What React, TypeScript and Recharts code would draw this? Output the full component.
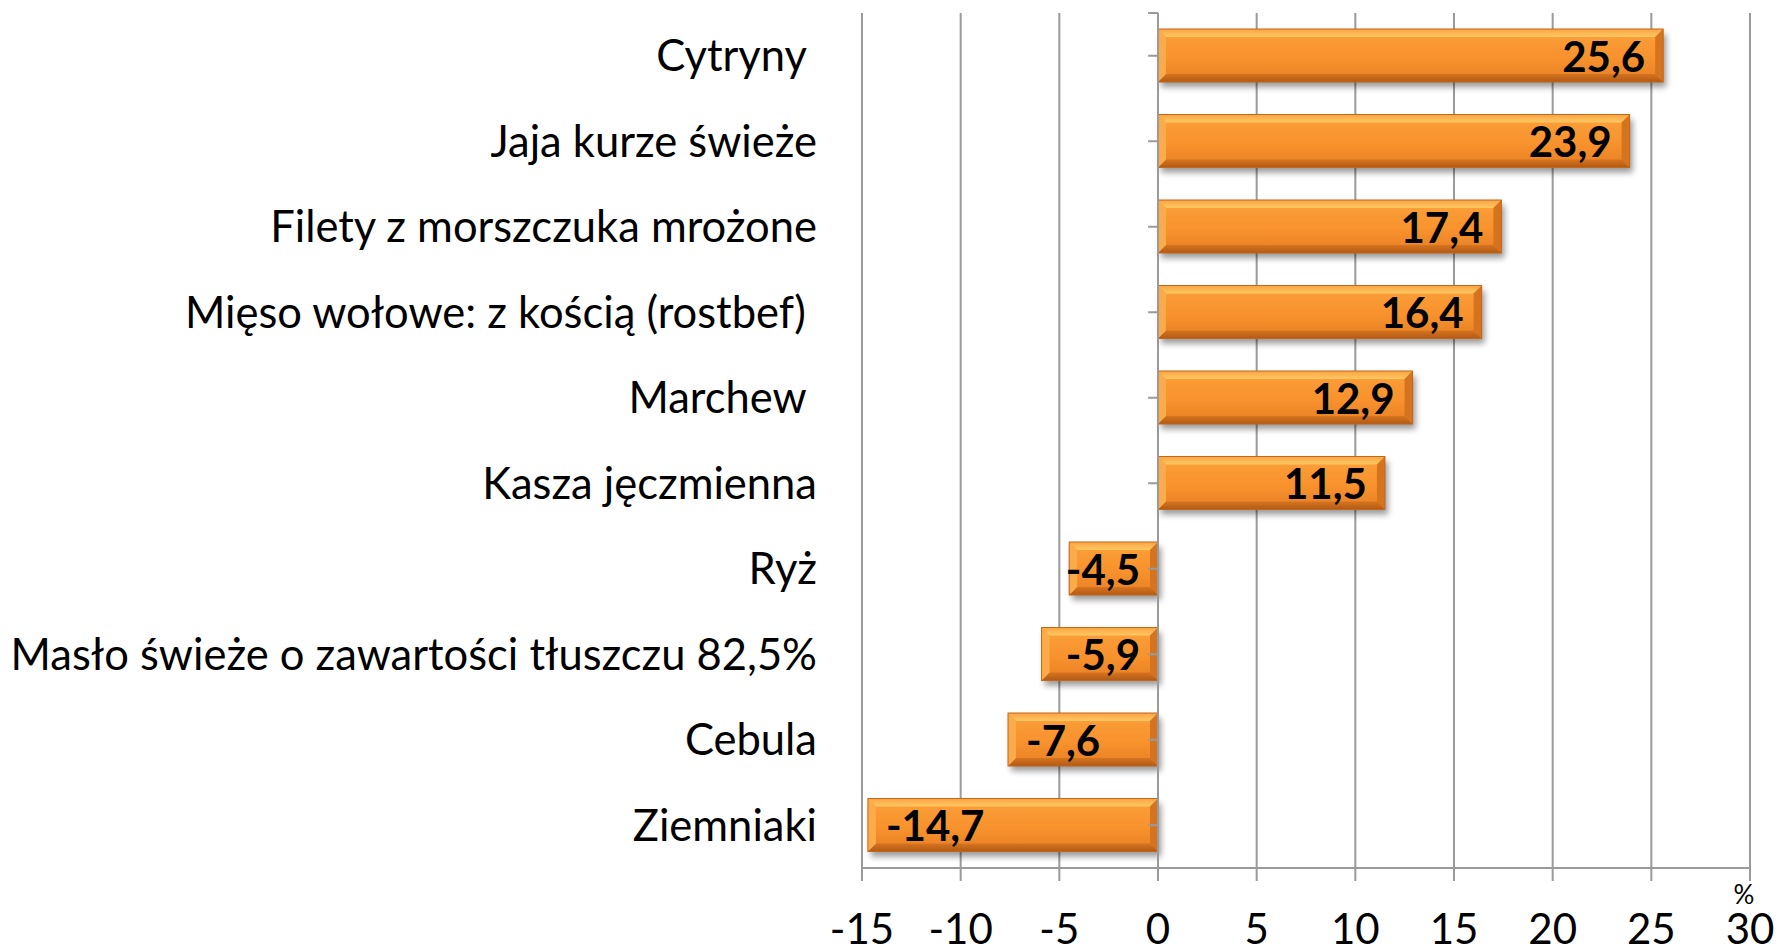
import React from 'react';
import { BarChart, Bar, XAxis, YAxis, CartesianGrid, ReferenceLine, LabelList } from 'recharts';

const categories = [
  'Cytryny ',
  'Jaja kurze świeże',
  'Filety z morszczuka mrożone',
  'Mięso wołowe: z kością (rostbef) ',
  'Marchew ',
  'Kasza jęczmienna',
  'Ryż',
  'Masło świeże o zawartości tłuszczu 82,5%',
  'Cebula',
  'Ziemniaki',
];
const changes = [25.6, 23.9, 17.4, 16.4, 12.9, 11.5, -4.5, -5.9, -7.6, -14.7];
const xTicks = [-15, -10, -5, 0, 5, 10, 15, 20, 25, 30];
const xDomain = [-15, 30];
const unitLabel = '%';

const data = categories.map((name, i) => ({ name, value: changes[i] }));

const FONT = "Lato, 'Open Sans', sans-serif";
const GRID = '#9a9a9a';

const fmt = (v: number) => v.toFixed(1).replace('.', ',');

const BevelBar = (props: any) => {
  let { x, y, width, height } = props;
  if (width < 0) { x += width; width = -width; }
  if (height < 0) { y += height; height = -height; }
  const b = Math.min(8, width / 2, height / 2);
  const r = x + width;
  const btm = y + height;
  return (
    <g>
      <rect x={x + 3} y={y + 5} width={width} height={height} fill="#000" opacity={0.4} filter="url(#barShadow)" />
      <rect x={x} y={y} width={width} height={height} fill="url(#barFace)" />
      <polygon points={`${x},${y} ${r},${y} ${r - b},${y + b} ${x + b},${y + b}`} fill="url(#bevelTop)" />
      <polygon points={`${x},${btm} ${r},${btm} ${r - b},${btm - b} ${x + b},${btm - b}`} fill="url(#bevelBottom)" />
      <polygon points={`${x},${y} ${x + b},${y + b} ${x + b},${btm - b} ${x},${btm}`} fill="#fbab4a" />
      <polygon points={`${r},${y} ${r - b},${y + b} ${r - b},${btm - b} ${r},${btm}`} fill="#d5731f" />
      <rect x={x} y={y} width={width} height={height} fill="none" stroke="#c4671a" strokeWidth={1} />
    </g>
  );
};

const ValueLabel = (props: any) => {
  const { x, y, width, height, value } = props;
  let left = x;
  let w = width;
  if (w < 0) { left = x + w; w = -w; }
  const right = left + w;
  const cy = y + height / 2 + 1;
  const text = fmt(value);
  const fs = 42;
  const est = text.length * fs * 0.5;
  const pad = 18;
  let anchor: 'start' | 'end' = 'end';
  let tx = right - pad;
  if (value < 0 && w - 2 * pad >= est) {
    anchor = 'start';
    tx = left + pad;
  }
  return (
    <text x={tx} y={cy} dy="0.36em" textAnchor={anchor} fontFamily={FONT} fontWeight="bold" fontSize={fs} fill="#000">
      {text}
    </text>
  );
};

const CategoryTick = (props: any) => {
  const { x, y, payload } = props;
  return (
    <text x={x} y={y} dy="0.36em" textAnchor="end" fontFamily={FONT} fontSize={43.5} fill="#000" style={{ whiteSpace: 'pre' }}>
      {payload.value}
    </text>
  );
};

const ValueTick = (props: any) => {
  const { x, y, payload } = props;
  return (
    <text x={x} y={y} dy="0.72em" textAnchor="middle" fontFamily={FONT} fontSize={42} fill="#000">
      {payload.value}
    </text>
  );
};

const UnitLabel = (props: any) => {
  const { viewBox } = props;
  if (!viewBox) return null;
  return (
    <text x={viewBox.x + viewBox.width - 6} y={viewBox.y + 27} dy="0.36em" textAnchor="middle" fontFamily={FONT} fontSize={26} fill="#000">
      {unitLabel}
    </text>
  );
};

export default function App() {
  return (
    <div style={{ position: 'absolute', left: 0, top: 0, background: '#fff' }}>
      <BarChart
        width={1779}
        height={947}
        data={data}
        layout="vertical"
        margin={{ top: 13, right: 29, bottom: 0, left: 0 }}
      >
        <defs>
          <linearGradient id="barFace" x1="0" y1="0" x2="0" y2="1">
            <stop offset="0%" stopColor="#fcac48" />
            <stop offset="20%" stopColor="#fa9b35" />
            <stop offset="55%" stopColor="#f8922d" />
            <stop offset="85%" stopColor="#ec8526" />
            <stop offset="100%" stopColor="#d6731f" />
          </linearGradient>
          <linearGradient id="bevelTop" x1="0" y1="0" x2="0" y2="1">
            <stop offset="0%" stopColor="#f9a442" />
            <stop offset="100%" stopColor="#ffc862" />
          </linearGradient>
          <linearGradient id="bevelBottom" x1="0" y1="0" x2="0" y2="1">
            <stop offset="0%" stopColor="#d67420" />
            <stop offset="100%" stopColor="#b25a14" />
          </linearGradient>
          <filter id="barShadow" x="-10%" y="-30%" width="120%" height="160%">
            <feGaussianBlur stdDeviation="3" />
          </filter>
        </defs>
        <CartesianGrid horizontal={false} vertical={true} stroke={GRID} strokeWidth={2} />
        <XAxis
          type="number"
          domain={xDomain}
          ticks={xTicks}
          allowDataOverflow
          height={79}
          axisLine={{ stroke: GRID, strokeWidth: 2 }}
          tickLine={{ stroke: GRID, strokeWidth: 2 }}
          tickSize={13}
          tickMargin={33}
          tick={<ValueTick />}
          interval={0}
          label={<UnitLabel />}
        />
        <YAxis
          type="category"
          dataKey="name"
          width={862}
          axisLine={false}
          tickLine={false}
          tickSize={0}
          tickMargin={45}
          tick={<CategoryTick />}
          interval={0}
        />
        <ReferenceLine x={0} stroke={GRID} strokeWidth={2} />
        <ReferenceLine
          segment={[{ x: -0.5, y: categories[0] }, { x: 0, y: categories[0] }]}
          position="start"
          stroke={GRID}
          strokeWidth={2}
        />
        {categories.map((c) => (
          <ReferenceLine
            key={'t' + c}
            segment={[{ x: -0.5, y: c }, { x: 0, y: c }]}
            stroke={GRID}
            strokeWidth={2}
          />
        ))}
        <Bar dataKey="value" barSize={53} shape={<BevelBar />} isAnimationActive={false}>
          <LabelList dataKey="value" content={<ValueLabel />} />
        </Bar>
      </BarChart>
    </div>
  );
}
